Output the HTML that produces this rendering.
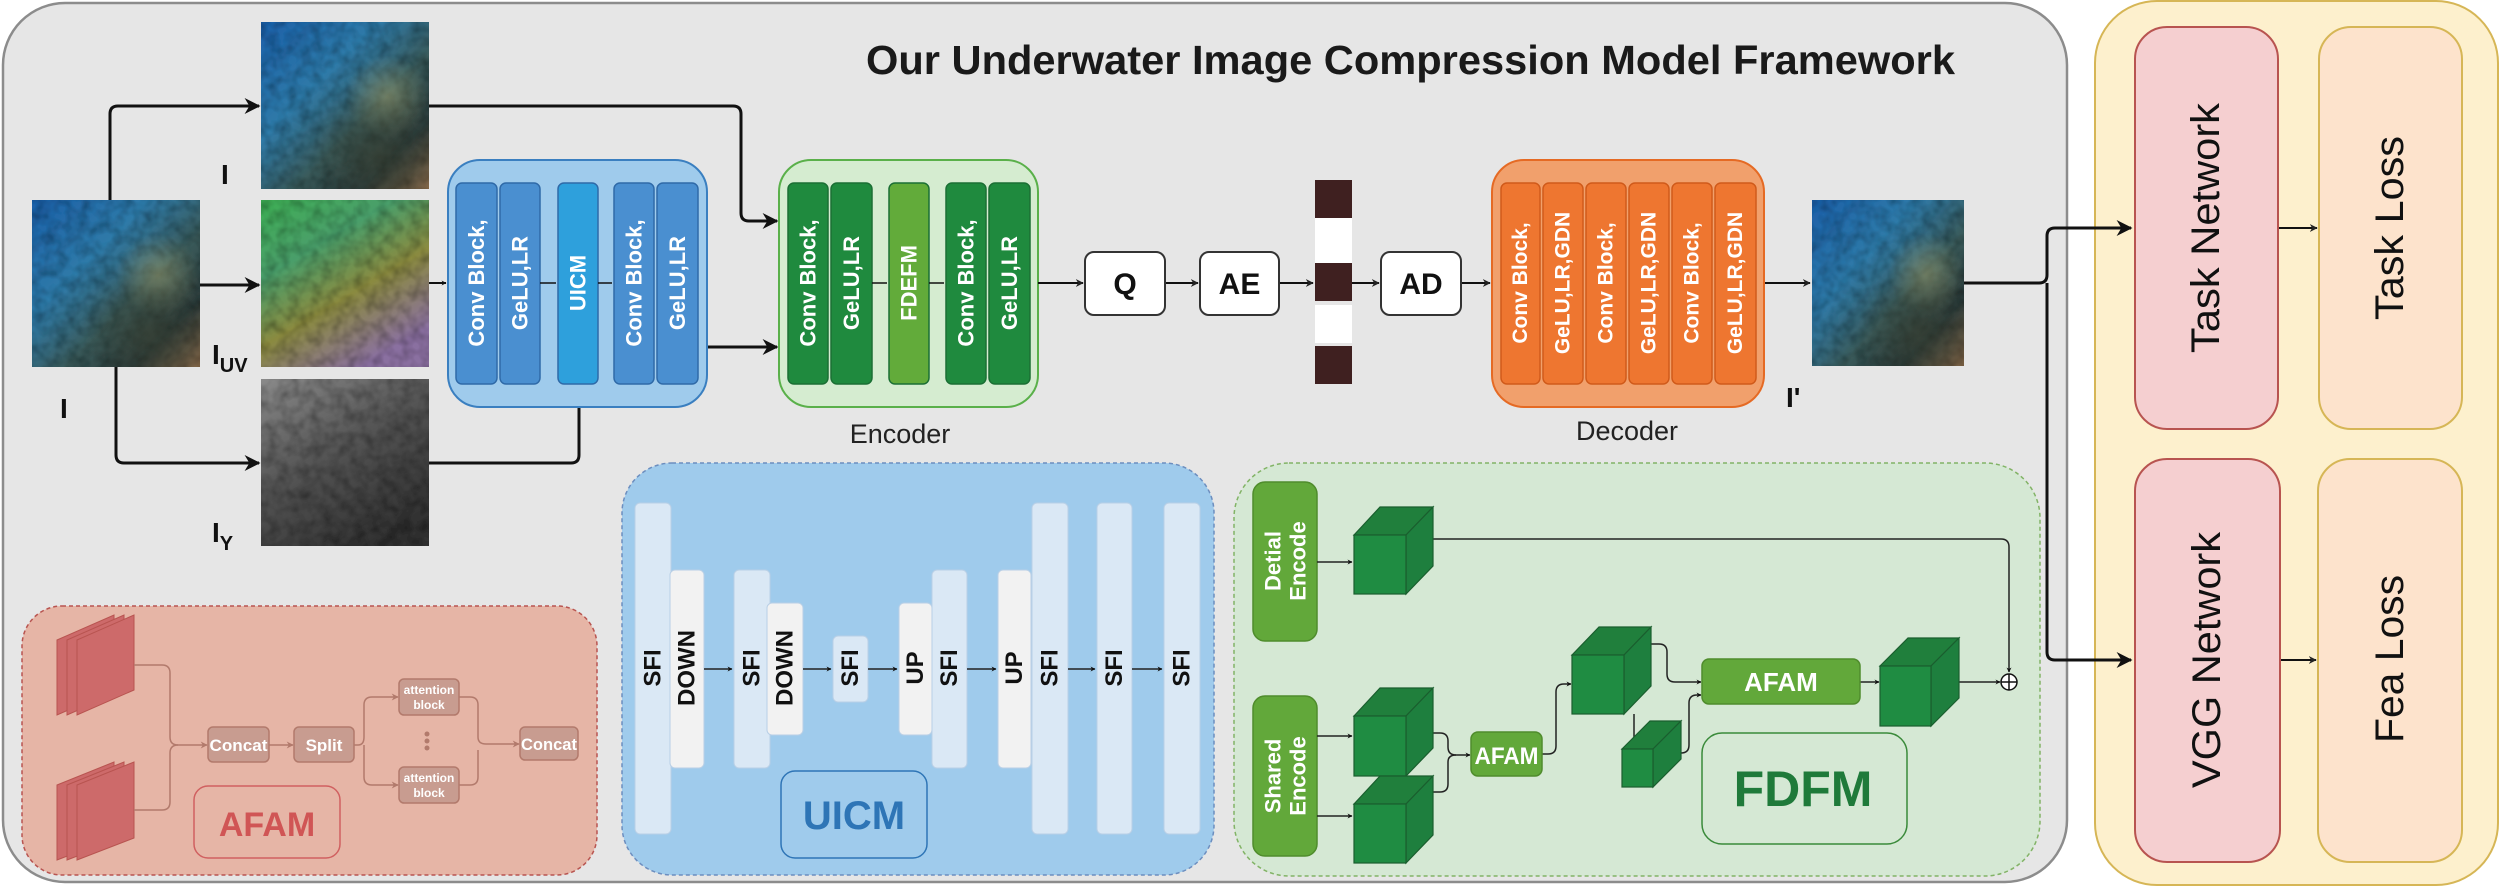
<!DOCTYPE html>
<html><head><meta charset="utf-8"><style>html,body{margin:0;padding:0;background:#fff}svg{display:block}</style></head>
<body>
<svg width="2500" height="887" viewBox="0 0 2500 887" xmlns="http://www.w3.org/2000/svg" font-family="Liberation Sans, Arial, sans-serif">
<defs>
<marker id="ah" viewBox="0 0 10 10" refX="9" refY="5" markerWidth="5" markerHeight="5" orient="auto" markerUnits="userSpaceOnUse"><path d="M0,0L10,5L0,10L3,5z" fill="#111"/></marker>
<marker id="ahb" viewBox="0 0 10 10" refX="9" refY="5" markerWidth="16" markerHeight="16" orient="auto" markerUnits="userSpaceOnUse"><path d="M0,0L10,5L0,10L3,5z" fill="#111"/></marker>
<marker id="ahs" viewBox="0 0 10 10" refX="9" refY="5" markerWidth="8" markerHeight="8" orient="auto" markerUnits="userSpaceOnUse"><path d="M0,0L10,5L0,10L3,5z" fill="#222"/></marker>
<marker id="ahr" viewBox="0 0 10 10" refX="9" refY="5" markerWidth="7" markerHeight="7" orient="auto" markerUnits="userSpaceOnUse"><path d="M0,0L10,5L0,10L3,5z" fill="#b27a6c"/></marker>
<linearGradient id="uw" x1="0" y1="0" x2="1" y2="1">
<stop offset="0" stop-color="#1d5fa8"/><stop offset="0.35" stop-color="#2f7aa8"/><stop offset="0.6" stop-color="#3a5a5a"/><stop offset="0.8" stop-color="#2b3a3a"/><stop offset="1" stop-color="#8a6a4a"/></linearGradient>
<radialGradient id="uw2" cx="0.75" cy="0.45" r="0.25"><stop offset="0" stop-color="#b8b47a" stop-opacity="0.45"/><stop offset="1" stop-color="#b8b47a" stop-opacity="0"/></radialGradient>
<radialGradient id="uw3" cx="0.7" cy="0.8" r="0.4"><stop offset="0" stop-color="#3a4030" stop-opacity="0.6"/><stop offset="1" stop-color="#3a4030" stop-opacity="0"/></radialGradient>
<linearGradient id="uv" x1="0" y1="0" x2="0.6" y2="1">
<stop offset="0" stop-color="#3fae55"/><stop offset="0.35" stop-color="#4a9e6a"/><stop offset="0.65" stop-color="#8a8a40"/><stop offset="1" stop-color="#8a70a0"/></linearGradient>
<linearGradient id="gy" x1="0" y1="0" x2="0.6" y2="1">
<stop offset="0" stop-color="#8a8a8a"/><stop offset="0.5" stop-color="#555"/><stop offset="1" stop-color="#333"/></linearGradient>
<filter id="tex" x="0" y="0" width="1" height="1">
<feTurbulence type="fractalNoise" baseFrequency="0.09" numOctaves="2" seed="3" result="n"/>
<feColorMatrix in="n" type="matrix" values="0 0 0 0 0  0 0 0 0 0  0 0 0 0 0  0 0 0 0.9 -0.3" result="m"/>
<feComposite in="m" in2="SourceGraphic" operator="in" result="d"/>
<feMerge><feMergeNode in="SourceGraphic"/><feMergeNode in="d"/></feMerge>
</filter>
</defs>

<rect x="3" y="3" width="2064" height="879" rx="62" fill="#e6e6e6" stroke="#8c8c8c" stroke-width="2.5"/>
<rect x="2095" y="1" width="403" height="884" rx="62" fill="#fdf0cd" stroke="#d6b656" stroke-width="2"/>

<text x="866" y="74" font-size="41" font-weight="bold" fill="#1a1a1a" textLength="1089" lengthAdjust="spacingAndGlyphs">Our Underwater Image Compression Model Framework</text>

<g filter="url(#tex)">
<rect x="261" y="22" width="168" height="167" fill="url(#uw)"/>
<rect x="32" y="200" width="168" height="167" fill="url(#uw)"/>
<rect x="261" y="200" width="168" height="167" fill="url(#uv)"/>
<rect x="261" y="379" width="168" height="167" fill="url(#gy)"/>
<rect x="1812" y="200" width="152" height="166" fill="url(#uw)"/>
</g>
<rect x="261" y="22" width="168" height="167" fill="url(#uw2)"/><rect x="261" y="22" width="168" height="167" fill="url(#uw3)"/>
<rect x="32" y="200" width="168" height="167" fill="url(#uw2)"/><rect x="32" y="200" width="168" height="167" fill="url(#uw3)"/>
<rect x="1812" y="200" width="152" height="166" fill="url(#uw2)"/><rect x="1812" y="200" width="152" height="166" fill="url(#uw3)"/>

<text x="221" y="184" font-size="28" font-weight="bold" fill="#111">I</text>
<text x="60" y="418" font-size="28" font-weight="bold" fill="#111">I</text>
<text x="212" y="364" font-size="28" font-weight="bold" fill="#111">I<tspan font-size="20" dy="8">UV</tspan></text>
<text x="212" y="542" font-size="28" font-weight="bold" fill="#111">I<tspan font-size="20" dy="8">Y</tspan></text>
<text x="1786" y="407" font-size="28" font-weight="bold" fill="#111">I'</text>

<g fill="none" stroke="#111" stroke-width="3">
<path d="M110,200 V114 Q110,106 118,106 H259" marker-end="url(#ahb)"/>
<path d="M200,285 H259" marker-end="url(#ahb)"/>
<path d="M116,367 V455 Q116,463 124,463 H259" marker-end="url(#ahb)"/>
<path d="M429,106 H733 Q741,106 741,114 V213 Q741,221 749,221 H777" marker-end="url(#ahb)"/>
<path d="M429,463 H571 Q579,463 579,455 V392" marker-end="url(#ahb)"/>
<path d="M707,347 H777" marker-end="url(#ahb)"/>
</g>
<path d="M429,283 H446" stroke="#111" stroke-width="2" marker-end="url(#ah)"/>

<rect x="448" y="160" width="259" height="247" rx="32" fill="#9fcbec" stroke="#3a7fc0" stroke-width="2"/>
<g stroke="#2f6aa8" stroke-width="1.5">
<rect x="456" y="183" width="41" height="201" rx="6" fill="#4a8fd0"/>
<rect x="500" y="183" width="40" height="201" rx="6" fill="#4a8fd0"/>
<rect x="558" y="183" width="40" height="201" rx="6" fill="#2ea0dc"/>
<rect x="614" y="183" width="40" height="201" rx="6" fill="#4a8fd0"/>
<rect x="657" y="183" width="41" height="201" rx="6" fill="#4a8fd0"/>
</g>
<g fill="#fff" font-weight="bold" font-size="22" text-anchor="middle" dominant-baseline="central">
<text transform="translate(476.5,283) rotate(-90)">Conv Block,</text>
<text transform="translate(520,283) rotate(-90)">GeLU,LR</text>
<text transform="translate(578,283) rotate(-90)">UICM</text>
<text transform="translate(634,283) rotate(-90)">Conv Block,</text>
<text transform="translate(677.5,283) rotate(-90)">GeLU,LR</text>
</g>
<path d="M540,283 H556 M598,283 H612" stroke="#111" stroke-width="1.5"/>

<rect x="779" y="160" width="259" height="247" rx="32" fill="#d5ecd0" stroke="#5ab04a" stroke-width="2"/>
<g stroke="#1b6f34" stroke-width="1.5">
<rect x="788" y="183" width="40" height="201" rx="6" fill="#1f8a3e"/>
<rect x="831" y="183" width="41" height="201" rx="6" fill="#1f8a3e"/>
<rect x="889" y="183" width="40" height="201" rx="6" fill="#62ab3a"/>
<rect x="946" y="183" width="40" height="201" rx="6" fill="#1f8a3e"/>
<rect x="989" y="183" width="41" height="201" rx="6" fill="#1f8a3e"/>
</g>
<g fill="#fff" font-weight="bold" font-size="22" text-anchor="middle" dominant-baseline="central">
<text transform="translate(808,283) rotate(-90)">Conv Block,</text>
<text transform="translate(851.5,283) rotate(-90)">GeLU,LR</text>
<text transform="translate(909,283) rotate(-90)">FDEFM</text>
<text transform="translate(966,283) rotate(-90)">Conv Block,</text>
<text transform="translate(1009.5,283) rotate(-90)">GeLU,LR</text>
</g>
<path d="M872,283 H887 M929,283 H944" stroke="#111" stroke-width="1.5"/>
<text x="900" y="443" font-size="27" text-anchor="middle" fill="#222">Encoder</text>

<g fill="none" stroke="#111" stroke-width="2">
<path d="M1038,283 H1083" marker-end="url(#ahs)"/>
<path d="M1165,283 H1198" marker-end="url(#ahs)"/>
<path d="M1279,283 H1313" marker-end="url(#ahs)"/>
<path d="M1352,283 H1379" marker-end="url(#ahs)"/>
<path d="M1461,283 H1490" marker-end="url(#ahs)"/>
<path d="M1764,283 H1810" marker-end="url(#ahs)"/>
</g>
<g fill="#fff" stroke="#333" stroke-width="2">
<rect x="1085" y="252" width="80" height="63" rx="9"/>
<rect x="1200" y="252" width="79" height="63" rx="9"/>
<rect x="1381" y="252" width="80" height="63" rx="9"/>
</g>
<g font-size="30" font-weight="bold" text-anchor="middle" fill="#111">
<text x="1125" y="294">Q</text><text x="1239.5" y="294">AE</text><text x="1421" y="294">AD</text>
</g>
<rect x="1315" y="180" width="37" height="38" fill="#3f2020"/>
<rect x="1315" y="218" width="37" height="45" fill="#fff"/>
<rect x="1315" y="263" width="37" height="38" fill="#3f2020"/>
<rect x="1315" y="305" width="37" height="38" fill="#fff"/>
<rect x="1315" y="346" width="37" height="38" fill="#3f2020"/>

<rect x="1492" y="160" width="272" height="247" rx="32" fill="#f1a06c" stroke="#e56a24" stroke-width="2"/>
<g fill="#ee7630" stroke="#d05a1a" stroke-width="1.5">
<rect x="1501" y="183" width="39" height="201" rx="6"/>
<rect x="1543" y="183" width="40" height="201" rx="6"/>
<rect x="1586" y="183" width="40" height="201" rx="6"/>
<rect x="1629" y="183" width="40" height="201" rx="6"/>
<rect x="1672" y="183" width="40" height="201" rx="6"/>
<rect x="1715" y="183" width="41" height="201" rx="6"/>
</g>
<g fill="#fff" font-weight="bold" font-size="21" text-anchor="middle" dominant-baseline="central">
<text transform="translate(1520.5,283) rotate(-90)">Conv Block,</text>
<text transform="translate(1563,283) rotate(-90)">GeLU,LR,GDN</text>
<text transform="translate(1606,283) rotate(-90)">Conv Block,</text>
<text transform="translate(1649,283) rotate(-90)">GeLU,LR,GDN</text>
<text transform="translate(1692,283) rotate(-90)">Conv Block,</text>
<text transform="translate(1735.5,283) rotate(-90)">GeLU,LR,GDN</text>
</g>
<text x="1627" y="440" font-size="27" text-anchor="middle" fill="#222">Decoder</text>

<g fill="none" stroke="#111" stroke-width="3">
<path d="M1964,283 H2039 Q2047,283 2047,275 V236 Q2047,228 2055,228 H2131" marker-end="url(#ahb)"/>
<path d="M2047,283 V652 Q2047,660 2055,660 H2131" marker-end="url(#ahb)"/>
</g>
<g fill="none" stroke="#111" stroke-width="2">
<path d="M2278,228 H2317" marker-end="url(#ahs)"/>
<path d="M2280,660 H2316" marker-end="url(#ahs)"/>
</g>
<rect x="2135" y="27" width="143" height="402" rx="32" fill="#f5cfd0" stroke="#b85450" stroke-width="2"/>
<rect x="2319" y="27" width="143" height="402" rx="32" fill="#fde3cc" stroke="#d6b656" stroke-width="2"/>
<rect x="2135" y="459" width="145" height="403" rx="32" fill="#f5cfd0" stroke="#b85450" stroke-width="2"/>
<rect x="2318" y="459" width="144" height="403" rx="32" fill="#fde3cc" stroke="#d6b656" stroke-width="2"/>
<g font-size="40" fill="#111" text-anchor="middle" dominant-baseline="central">
<text transform="translate(2206,228) rotate(-90)" textLength="250" lengthAdjust="spacingAndGlyphs">Task Network</text>
<text transform="translate(2390,228) rotate(-90)" textLength="184" lengthAdjust="spacingAndGlyphs">Task Loss</text>
<text transform="translate(2207,660) rotate(-90)" textLength="256" lengthAdjust="spacingAndGlyphs">VGG Network</text>
<text transform="translate(2390,659) rotate(-90)" textLength="168" lengthAdjust="spacingAndGlyphs">Fea Loss</text>
</g>

<rect x="22" y="606" width="575" height="269" rx="40" fill="#e6b5a6" stroke="#b85450" stroke-width="1.5" stroke-dasharray="4,3"/>
<g fill="#cd6a6a" stroke="#b85450" stroke-width="1">
<path d="M57,640 L114,615 L114,690 L57,715z"/>
<path d="M67,640 L124,615 L124,690 L67,715z"/>
<path d="M77,640 L134,615 L134,690 L77,715z"/>
<path d="M57,785 L114,762 L114,838 L57,860z"/>
<path d="M67,785 L124,762 L124,838 L67,860z"/>
<path d="M77,785 L134,762 L134,838 L77,860z"/>
</g>
<g fill="none" stroke="#b27a6c" stroke-width="1.5">
<path d="M134,665 H162 Q170,665 170,673 V737 Q170,745 178,745 H207" marker-end="url(#ahr)"/>
<path d="M134,810 H162 Q170,810 170,802 V753 Q170,745 178,745"/>
<path d="M269,745 H293" marker-end="url(#ahr)"/>
<path d="M354,745 H358 Q364,745 364,737 V705 Q364,697 372,697 H398" marker-end="url(#ahr)"/>
<path d="M364,745 V777 Q364,785 372,785 H398" marker-end="url(#ahr)"/>
<path d="M459,697 H470 Q478,697 478,705 V737 Q478,744 486,744 H519" marker-end="url(#ahr)"/>
<path d="M459,785 H470 Q478,785 478,777 V750"/>
</g>
<g fill="#c89c90" stroke="#b27a6c" stroke-width="1.5">
<rect x="208" y="727" width="61" height="35" rx="5"/>
<rect x="294" y="727" width="60" height="35" rx="5"/>
<rect x="399" y="679" width="60" height="36" rx="5"/>
<rect x="399" y="767" width="60" height="36" rx="5"/>
<rect x="520" y="727" width="58" height="33" rx="5"/>
</g>
<g fill="#fff" font-weight="bold" text-anchor="middle">
<text x="238.5" y="751" font-size="17" textLength="58" lengthAdjust="spacingAndGlyphs">Concat</text>
<text x="324" y="751" font-size="17">Split</text>
<text x="549" y="750" font-size="17" textLength="56" lengthAdjust="spacingAndGlyphs">Concat</text>
<text x="429" y="694" font-size="12">attention</text><text x="429" y="709" font-size="12">block</text>
<text x="429" y="782" font-size="12">attention</text><text x="429" y="797" font-size="12">block</text>
</g>
<g fill="#b27a6c"><circle cx="427" cy="734" r="2.5"/><circle cx="427" cy="741" r="2.5"/><circle cx="427" cy="748" r="2.5"/></g>
<rect x="194" y="786" width="146" height="72" rx="14" fill="none" stroke="#d06060" stroke-width="1.5"/>
<text x="267" y="836" font-size="34" font-weight="bold" fill="#d05555" text-anchor="middle">AFAM</text>

<rect x="622" y="463" width="592" height="412" rx="50" fill="#9fcbec" stroke="#6c8ebf" stroke-width="1.5" stroke-dasharray="4,3"/>
<g stroke="#b8cfe6" stroke-width="1">
<rect x="635" y="503" width="36" height="331" rx="5" fill="#dae8f5"/>
<rect x="670" y="570" width="34" height="198" rx="5" fill="#f2f2f2"/>
<rect x="734" y="570" width="36" height="198" rx="5" fill="#dae8f5"/>
<rect x="767" y="603" width="36" height="132" rx="5" fill="#f2f2f2"/>
<rect x="833" y="636" width="35" height="66" rx="5" fill="#dae8f5"/>
<rect x="899" y="603" width="33" height="132" rx="5" fill="#f2f2f2"/>
<rect x="932" y="570" width="35" height="198" rx="5" fill="#dae8f5"/>
<rect x="998" y="570" width="33" height="198" rx="5" fill="#f2f2f2"/>
<rect x="1032" y="503" width="36" height="331" rx="5" fill="#dae8f5"/>
<rect x="1097" y="503" width="35" height="331" rx="5" fill="#dae8f5"/>
<rect x="1164" y="503" width="36" height="331" rx="5" fill="#dae8f5"/>
</g>
<g fill="none" stroke="#222" stroke-width="1.5">
<path d="M704,669 H732" marker-end="url(#ah)"/>
<path d="M803,669 H831" marker-end="url(#ah)"/>
<path d="M868,669 H897" marker-end="url(#ah)"/>
<path d="M967,669 H996" marker-end="url(#ah)"/>
<path d="M1068,669 H1095" marker-end="url(#ah)"/>
<path d="M1132,669 H1162" marker-end="url(#ah)"/>
</g>
<g fill="#111" font-weight="bold" font-size="24" text-anchor="middle" dominant-baseline="central">
<text transform="translate(653,668) rotate(-90)">SFI</text>
<text transform="translate(687,668) rotate(-90)">DOWN</text>
<text transform="translate(752,668) rotate(-90)">SFI</text>
<text transform="translate(785,668) rotate(-90)">DOWN</text>
<text transform="translate(850.5,668) rotate(-90)">SFI</text>
<text transform="translate(915.5,668) rotate(-90)">UP</text>
<text transform="translate(949.5,668) rotate(-90)">SFI</text>
<text transform="translate(1014.5,668) rotate(-90)">UP</text>
<text transform="translate(1050,668) rotate(-90)">SFI</text>
<text transform="translate(1114.5,668) rotate(-90)">SFI</text>
<text transform="translate(1182,668) rotate(-90)">SFI</text>
</g>
<rect x="781" y="771" width="146" height="87" rx="14" fill="none" stroke="#2e75b6" stroke-width="1.5"/>
<text x="854" y="829" font-size="40" font-weight="bold" fill="#2e75b6" text-anchor="middle">UICM</text>

<rect x="1234" y="463" width="806" height="413" rx="55" fill="#d5e8d4" stroke="#82b366" stroke-width="1.5" stroke-dasharray="4,3"/>
<rect x="1253" y="482" width="64" height="159" rx="12" fill="#62a83a" stroke="#4f8c2c" stroke-width="1.5"/>
<rect x="1253" y="696" width="64" height="160" rx="12" fill="#62a83a" stroke="#4f8c2c" stroke-width="1.5"/>
<g fill="#fff" font-weight="bold" font-size="22" text-anchor="middle" dominant-baseline="central">
<text transform="translate(1273,561) rotate(-90)">Detial</text>
<text transform="translate(1298,561) rotate(-90)">Encode</text>
<text transform="translate(1273,776) rotate(-90)">Shared</text>
<text transform="translate(1298,776) rotate(-90)">Encode</text>
</g>
<g fill="none" stroke="#222" stroke-width="1.5">
<path d="M1317,562 H1352" marker-end="url(#ah)"/>
<path d="M1317,736 H1352" marker-end="url(#ah)"/>
<path d="M1317,816 H1352" marker-end="url(#ah)"/>
<path d="M1433,539 H2001 Q2009,539 2009,547 V672" marker-end="url(#ah)"/>
<path d="M1433,733 H1440 Q1448,733 1448,741 V747 Q1448,755 1456,755 H1470" marker-end="url(#ah)"/>
<path d="M1433,792 H1440 Q1448,792 1448,784 V762 Q1448,755 1456,755"/>
<path d="M1542,754 H1548 Q1556,754 1556,746 V692 Q1556,684 1564,684 H1571" marker-end="url(#ah)"/>
<path d="M1651,644 H1659 Q1667,644 1667,652 V674 Q1667,682 1675,682 H1701" marker-end="url(#ah)"/>
<path d="M1634,714 V737 Q1634,745 1642,745 H1648" marker-end="url(#ah)"/>
<path d="M1681,753 Q1689,753 1689,745 V703 Q1689,695 1697,695 H1701" marker-end="url(#ah)"/>
<path d="M1860,682 H1879" marker-end="url(#ah)"/>
<path d="M1959,682 H2000" marker-end="url(#ah)"/>
</g>
<circle cx="2009" cy="682" r="8" fill="#fff" stroke="#111" stroke-width="1.5"/>
<path d="M2001,682 H2017 M2009,674 V690" stroke="#111" stroke-width="1.5"/>
<g stroke="#1a5e2e" stroke-width="1.2">
<g><path d="M1354,535 L1380,507 L1433,507 L1406,535z" fill="#207f3c"/><path d="M1406,535 L1433,507 L1433,566 L1406,594z" fill="#1e7f3e"/><rect x="1354" y="535" width="52" height="59" fill="#1f8c42"/></g>
<g><path d="M1354,716 L1380,688 L1433,688 L1406,716z" fill="#207f3c"/><path d="M1406,716 L1433,688 L1433,748 L1406,776z" fill="#1e7f3e"/><rect x="1354" y="716" width="52" height="60" fill="#1f8c42"/></g>
<g><path d="M1354,804 L1380,776 L1433,776 L1406,804z" fill="#207f3c"/><path d="M1406,804 L1433,776 L1433,835 L1406,863z" fill="#1e7f3e"/><rect x="1354" y="804" width="52" height="59" fill="#1f8c42"/></g>
<g><path d="M1572,655 L1599,627 L1651,627 L1624,655z" fill="#207f3c"/><path d="M1624,655 L1651,627 L1651,686 L1624,714z" fill="#1e7f3e"/><rect x="1572" y="655" width="52" height="59" fill="#1f8c42"/></g>
<g><path d="M1622,749 L1650,721 L1681,721 L1653,749z" fill="#207f3c"/><path d="M1653,749 L1681,721 L1681,759 L1653,787z" fill="#1e7f3e"/><rect x="1622" y="749" width="31" height="38" fill="#1f8c42"/></g>
<g><path d="M1880,666 L1908,638 L1959,638 L1931,666z" fill="#207f3c"/><path d="M1931,666 L1959,638 L1959,698 L1931,726z" fill="#1e7f3e"/><rect x="1880" y="666" width="51" height="60" fill="#1f8c42"/></g>
</g>
<rect x="1471" y="732" width="71" height="44" rx="7" fill="#62a83a" stroke="#4f8c2c" stroke-width="1.5"/>
<text x="1506.5" y="764" font-size="24" font-weight="bold" fill="#fff" text-anchor="middle" textLength="64" lengthAdjust="spacingAndGlyphs">AFAM</text>
<rect x="1702" y="659" width="158" height="45" rx="7" fill="#62a83a" stroke="#4f8c2c" stroke-width="1.5"/>
<text x="1781" y="691" font-size="26" font-weight="bold" fill="#fff" text-anchor="middle">AFAM</text>
<rect x="1702" y="733" width="205" height="111" rx="20" fill="none" stroke="#3a8a3a" stroke-width="1.5"/>
<text x="1803" y="806" font-size="50" font-weight="bold" fill="#1f7a3a" text-anchor="middle">FDFM</text>
</svg>
</body></html>
